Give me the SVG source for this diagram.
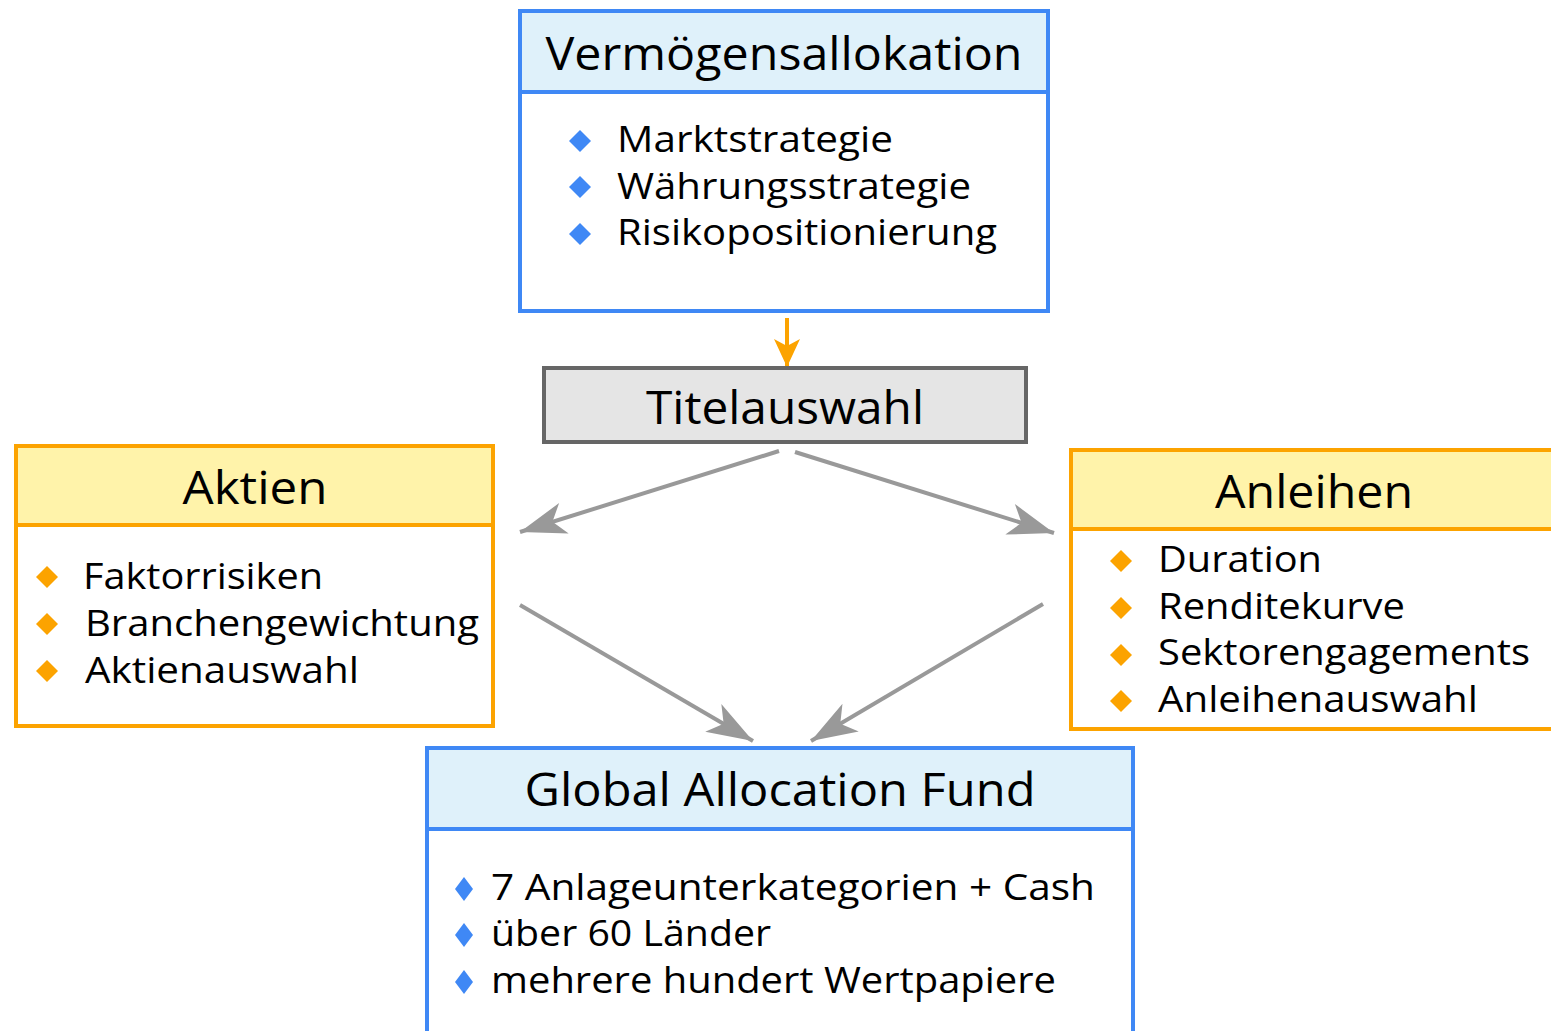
<svg xmlns="http://www.w3.org/2000/svg" width="1551" height="1031" viewBox="0 0 1551 1031">
<style>
.t{font-family:"Open Sans","Noto Sans","Liberation Sans",sans-serif;fill:#000}
.h{font-size:46px}
.i{font-size:36px}
.bbox{fill:#fff;stroke:#3f88f5;stroke-width:4}
.bhead{fill:#dff1fa;stroke:#3f88f5;stroke-width:4}
.obox{fill:#fff;stroke:#fca300;stroke-width:4}
.ohead{fill:#fff3aa;stroke:#fca300;stroke-width:4}
.bd{fill:#3f88f5}
.od{fill:#fca300}
.g{stroke:#999;stroke-width:4;fill:none}
</style>
<defs>
<path id="dia" d="M0,-11 L11,0 L0,11 L-11,0 Z"/>
<path id="diaN" d="M0,-12 L9,0 L0,12 L-9,0 Z"/>
<marker id="ga" markerUnits="userSpaceOnUse" markerWidth="60" markerHeight="40" viewBox="-50 -20 60 40" refX="0" refY="0" orient="auto">
<path d="M0,0 L-46,-16 L-34,0 L-46,16 Z" fill="#999"/>
</marker>
<marker id="oa" markerUnits="userSpaceOnUse" markerWidth="40" markerHeight="40" viewBox="-35 -20 40 40" refX="0" refY="0" orient="auto">
<path d="M0,0 L-28,-13 L-21,0 L-28,13 Z" fill="#fca300"/>
</marker>
</defs>

<g id="connectors">
<line x1="787" y1="318" x2="787" y2="367" stroke="#fca300" stroke-width="4" marker-end="url(#oa)"/>
<line class="g" x1="779" y1="451" x2="520" y2="532" marker-end="url(#ga)"/>
<line class="g" x1="795" y1="452" x2="1054" y2="533" marker-end="url(#ga)"/>
<line class="g" x1="520" y1="605" x2="753" y2="741" marker-end="url(#ga)"/>
<line class="g" x1="1043" y1="604" x2="811" y2="741" marker-end="url(#ga)"/>
</g>

<g id="node-vermoegensallokation">
<rect class="bbox" x="520" y="11" width="528" height="300"/>
<rect class="bhead" x="520" y="11" width="528" height="81"/>
<text class="t h" x="784" y="70" text-anchor="middle" textLength="477" lengthAdjust="spacingAndGlyphs">Vermögensallokation</text>
<use href="#dia" class="bd" x="580" y="141"/>
<use href="#dia" class="bd" x="580" y="187"/>
<use href="#dia" class="bd" x="580" y="234"/>
<text class="t i" x="617" y="152" textLength="276" lengthAdjust="spacingAndGlyphs">Marktstrategie</text>
<text class="t i" x="617" y="199" textLength="354" lengthAdjust="spacingAndGlyphs">Währungsstrategie</text>
<text class="t i" x="617" y="245" textLength="380" lengthAdjust="spacingAndGlyphs">Risikopositionierung</text>
</g>

<g id="node-titelauswahl">
<rect x="544" y="368" width="482" height="74" fill="#e5e5e5" stroke="#666" stroke-width="4"/>
<text class="t h" x="785" y="424" text-anchor="middle" textLength="278" lengthAdjust="spacingAndGlyphs">Titelauswahl</text>
</g>

<g id="node-aktien">
<rect class="obox" x="16" y="446" width="477" height="280"/>
<rect class="ohead" x="16" y="446" width="477" height="79"/>
<text class="t h" x="255" y="504" text-anchor="middle" textLength="145" lengthAdjust="spacingAndGlyphs">Aktien</text>
<use href="#dia" class="od" x="47" y="577"/>
<use href="#dia" class="od" x="47" y="624"/>
<use href="#dia" class="od" x="47" y="671"/>
<text class="t i" x="83" y="589" textLength="240" lengthAdjust="spacingAndGlyphs">Faktorrisiken</text>
<text class="t i" x="85" y="636" textLength="394" lengthAdjust="spacingAndGlyphs">Branchengewichtung</text>
<text class="t i" x="85" y="683" textLength="274" lengthAdjust="spacingAndGlyphs">Aktienauswahl</text>
</g>

<g id="node-anleihen">
<rect class="obox" x="1071" y="450" width="490" height="279"/>
<rect class="ohead" x="1071" y="450" width="490" height="79"/>
<text class="t h" x="1314" y="508" text-anchor="middle" textLength="198" lengthAdjust="spacingAndGlyphs">Anleihen</text>
<use href="#dia" class="od" x="1121" y="561"/>
<use href="#dia" class="od" x="1121" y="608"/>
<use href="#dia" class="od" x="1121" y="655"/>
<use href="#dia" class="od" x="1121" y="701"/>
<text class="t i" x="1158" y="572" textLength="164" lengthAdjust="spacingAndGlyphs">Duration</text>
<text class="t i" x="1158" y="619" textLength="247" lengthAdjust="spacingAndGlyphs">Renditekurve</text>
<text class="t i" x="1158" y="665" textLength="372" lengthAdjust="spacingAndGlyphs">Sektorengagements</text>
<text class="t i" x="1158" y="712" textLength="320" lengthAdjust="spacingAndGlyphs">Anleihenauswahl</text>
</g>

<g id="node-global-allocation-fund">
<rect class="bbox" x="427" y="748" width="706" height="300"/>
<rect class="bhead" x="427" y="748" width="706" height="81"/>
<text class="t h" x="780" y="806" text-anchor="middle" textLength="511" lengthAdjust="spacingAndGlyphs">Global Allocation Fund</text>
<use href="#diaN" class="bd" x="464" y="889"/>
<use href="#diaN" class="bd" x="464" y="935"/>
<use href="#diaN" class="bd" x="464" y="982"/>
<text class="t i" x="491" y="900" textLength="604" lengthAdjust="spacingAndGlyphs">7 Anlageunterkategorien + Cash</text>
<text class="t i" x="491" y="946" textLength="280" lengthAdjust="spacingAndGlyphs">über 60 Länder</text>
<text class="t i" x="491" y="993" textLength="565" lengthAdjust="spacingAndGlyphs">mehrere hundert Wertpapiere</text>
</g>
</svg>
